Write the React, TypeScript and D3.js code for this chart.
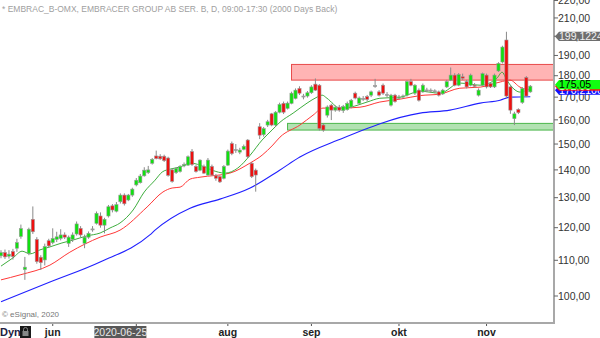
import React from 'react';
import * as d3 from 'd3';

const title = '* EMBRAC_B-OMX, EMBRACER GROUP AB SER. B, D, 09:00-17:30 (2000 Days Back)';

const opens = [111.3,112.3,111.2,112.6,113.6,117.2,107.3,112.1,122.7,116.3,110.9,110.1,115.9,115.3,116.3,116.6,117.7,115.1,116.3,118.0,119.8,115.1,117.0,119.3,121.4,123.8,120.8,123.8,127.2,125.4,128.6,130.9,129.2,130.9,134.5,135.3,137.8,139.0,142.5,145.3,145.2,145.2,144.5,140.0,139.0,139.4,141.5,141.8,147.0,141.3,139.9,141.3,138.1,141.3,137.8,137.5,136.9,141.8,150.2,147.8,146.8,147.9,151.6,142.5,139.9,157.1,153.8,157.8,162.6,157.8,163.3,167.2,165.0,167.2,169.4,174.0,170.2,170.5,172.0,176.0,175.5,157.8,162.0,166.4,164.2,165.5,164.0,164.4,165.6,171.8,167.2,169.0,170.2,170.9,175.0,172.4,175.5,171.0,166.4,170.9,169.5,170.0,170.9,177.2,171.8,173.2,172.4,173.0,172.8,172.5,172.4,171.5,174.7,177.9,180.3,175.5,179.5,177.2,175.5,175.5,170.9,175.5,180.3,176.3,174.7,182.3,186.7,198.0,174.7,160.5,164.5,167.6,179.2,172.4];
const highs = [113.0,113.2,113.0,113.4,116.5,121.0,111.0,120.0,127.0,117.0,111.5,115.0,116.5,119.8,118.7,119.5,118.5,117.5,118.5,122.0,120.5,117.8,118.8,120.5,125.3,125.0,123.2,127.5,127.8,128.5,131.5,131.5,131.3,133.5,137.0,138.5,141.0,141.5,144.5,147.4,146.0,145.8,145.0,140.5,141.0,141.8,142.8,145.5,148.0,141.8,144.0,142.0,144.5,142.0,138.5,138.0,141.8,147.8,151.0,150.0,148.5,149.8,152.0,143.0,140.5,158.6,157.0,160.0,163.0,163.8,167.5,168.0,168.0,172.5,174.0,175.0,171.5,172.8,175.5,178.7,176.0,158.5,166.3,167.0,166.2,166.5,166.5,168.0,169.2,172.5,170.3,170.5,171.0,173.0,178.5,173.2,176.3,172.3,171.5,171.5,171.0,171.2,177.8,178.5,176.0,174.0,176.3,174.3,174.0,173.6,173.0,173.8,178.0,184.0,181.2,181.3,181.0,178.0,181.0,176.5,174.0,181.5,181.0,177.0,181.0,186.6,195.0,202.4,175.5,163.5,165.0,174.6,179.8,175.6];
const lows = [110.6,110.4,110.5,110.2,112.5,116.5,104.4,111.5,118.0,109.0,107.2,108.5,113.8,114.8,115.5,116.0,116.4,114.0,115.5,117.5,117.0,113.6,116.5,118.7,121.0,120.0,118.2,123.3,125.0,125.0,128.0,127.3,128.8,130.3,134.0,135.0,137.5,138.5,142.0,144.0,143.8,143.0,137.5,135.3,138.5,139.0,141.0,141.5,141.5,139.0,139.5,138.5,137.8,137.8,136.0,135.2,136.5,141.5,145.6,146.5,146.0,147.5,144.5,137.0,132.1,152.0,153.0,157.0,157.3,157.0,162.8,162.5,164.5,166.8,169.0,171.0,169.0,169.8,171.5,172.8,155.5,155.0,161.0,159.9,163.5,163.5,163.0,164.0,165.0,169.0,166.5,168.3,168.0,170.0,174.3,170.3,171.0,170.0,165.8,167.5,169.0,169.3,170.3,175.0,171.0,168.0,172.0,172.3,172.0,171.8,170.3,171.0,174.2,177.4,175.0,175.0,178.0,174.0,175.0,174.3,170.3,175.0,174.0,174.2,174.2,181.8,186.0,169.5,162.6,157.8,162.5,167.0,170.0,172.0];
const closes = [112.3,111.0,111.8,111.1,115.3,119.7,108.0,119.5,118.7,109.6,109.3,114.1,114.3,116.6,117.1,117.7,117.0,117.0,117.7,121.2,117.7,117.0,118.2,119.6,124.7,120.8,122.7,126.9,125.8,127.6,130.9,127.9,130.9,133.0,136.2,137.7,139.9,140.0,144.0,144.3,144.2,143.5,138.0,135.8,140.6,141.3,142.0,145.0,142.0,139.4,143.7,138.8,143.7,138.1,136.9,135.6,141.3,147.2,146.2,147.5,147.6,149.1,145.0,137.5,138.1,153.6,156.3,159.2,157.8,163.3,166.7,163.3,167.3,171.8,173.2,171.8,170.5,172.0,174.7,173.2,156.3,155.7,165.6,164.2,165.5,164.2,165.8,167.2,168.6,169.6,169.6,169.4,169.0,172.4,175.3,170.9,171.8,171.2,170.9,168.0,170.0,170.5,177.2,175.5,175.5,168.6,175.5,173.3,173.2,172.9,170.9,173.2,177.2,180.3,175.5,180.6,178.8,174.7,180.3,175.0,173.2,181.0,174.7,174.7,180.3,186.0,194.3,170.5,164.2,162.6,163.1,174.0,170.5,175.05];

const greenMaIdx = [0,3,5.3,7.3,9.8,12.3,15.3,18.1,21.6,24.9,27.4,29.9,33.2,36,38.7,40.5,42.5,45,47.5,50,53,56.3,59.5,62.6,65.6,68.1,70.1,73.4,76.9,79.4,80.7,81.9,85.2,87.7,92,95.2,100.3,105.3,110.3,115.3,120.4,124.6,125.9,127.1,128.4,130.4,133];
const greenMaVal = [108.3,110.7,112.7,111.9,113.1,114.0,115.2,116.1,117.4,118.3,119.9,121.5,125.8,132.0,136.2,139.2,140.3,141.1,142.6,141.8,139.9,138.8,140.7,145.6,151.6,155.7,159.0,162.9,167.3,170.0,170.9,169.5,165.1,165.5,167.8,169.5,170.0,172.7,171.8,176.5,175.5,178.8,181.7,177.9,174.6,172.3,174.1];

const redMaIdx = [0,4.8,12.3,17.3,24.9,29.9,36.7,40.7,43,45,47.5,50,57.5,62.6,65.6,68.3,70.1,75.1,78.4,80.9,85.2,90.2,95.2,100.3,105.3,110.3,115.3,120.4,125.4,127.9,130.4,133];
const redMaVal = [104.4,105.8,108.6,112.4,117.0,119.2,126.8,132.0,133.4,133.7,136.6,137.3,138.8,142.6,145.6,149.6,152.8,157.8,162.0,165.1,165.1,165.5,167.8,169.1,170.7,171.4,174.1,174.6,177.0,177.9,174.6,173.2];

const blueMaIdx = [0,12.3,24.9,37.4,38.7,47.5,55,62.6,70,75.1,84.7,105.3,112.8,120.4,125.4,128,133];
const blueMaVal = [98.5,103.8,109.5,117.7,119.2,126.4,129.5,133.4,139.9,144.9,151.6,162.9,164.2,167.3,168.6,170.0,170.2];

const yTicks = [100,110,120,130,140,150,160,170,180,190,200,210,220];
const monthLabels = ['jun','','aug','sep','okt','nov'];
const monthIdx = [13,34,57,78,100,122];

const resistanceZone = [177.9, 185.5];
const resistanceStart = 73;
const supportZone = [155.7, 158.5];
const supportStart = 72;

const lastPrice = 175.05;
const redMaLast = 172.9;
const blueMaLast = 170.2106;
const crossPrice = 199.12243;
const crossDate = '2020-06-25';
const crossIdx = 30;

const W = 600, H = 338;
const plotR = 553, plotB = 323;
const FONT = 'Liberation Sans, Arial, Helvetica, sans-serif';

const fmt = (v: number, d = 2) => v.toFixed(d).replace('.', ',');

function Tag({ cy, fill, color, text }: { cy: number; fill: string; color: string; text: string }) {
  const h = 4.6;
  const pts = `555,${cy} 559,${cy - h} 600,${cy - h} 600,${cy + h} 559,${cy + h}`;
  return (
    <g>
      <polygon points={pts} fill={fill} />
      <text x={559} y={cy} dy="0.36em" fontSize={10.5} fill={color} fontFamily={FONT}>{text}</text>
    </g>
  );
}

export default function App() {
  const x = d3.scaleLinear().domain([-0.25, 138.7]).range([0, plotR]);
  const y = d3.scaleLog().domain([93.05, 220.3]).range([plotB, 0]);

  const line = (idx: number[], vals: number[]) =>
    d3.line<number>().x((_, i) => x(idx[i])).y((v) => y(v)).curve(d3.curveMonotoneX)(vals) || '';

  const gy = y(lastPrice) - 1.5;

  return (
    <svg width={W} height={H} style={{ position: 'absolute', left: 0, top: 0, background: '#fff' }}>
      <defs>
        <clipPath id="plot"><rect x={0} y={0} width={plotR} height={plotB} /></clipPath>
      </defs>
      <rect x={0} y={0} width={W} height={H} fill="#fff" />
      <g clipPath="url(#plot)">
        <rect x={x(resistanceStart)} y={y(resistanceZone[1])} width={plotR - x(resistanceStart) + 2}
          height={y(resistanceZone[0]) - y(resistanceZone[1])} fill="#ffb4b4" stroke="#e84a4a" strokeWidth={1} />
        <rect x={x(supportStart)} y={y(supportZone[1])} width={plotR - x(supportStart) + 2}
          height={y(supportZone[0]) - y(supportZone[1])} fill="#b2e2b2" stroke="#4cb84c" strokeWidth={1} />
        <path d={line(blueMaIdx, blueMaVal)} fill="none" stroke="#2020ff" strokeWidth={1.1} />
        <path d={line(redMaIdx, redMaVal)} fill="none" stroke="#ff3838" strokeWidth={1} />
        <path d={line(greenMaIdx, greenMaVal)} fill="none" stroke="#28a428" strokeWidth={0.9} />
        {closes.map((c, i) => {
          const o = opens[i];
          const cx = x(i);
          const up = c >= o;
          const top = y(Math.max(o, c));
          const bot = y(Math.min(o, c));
          const bh = Math.max(1, bot - top);
          return (
            <g key={i}>
              <line x1={cx} x2={cx} y1={y(highs[i])} y2={y(lows[i])} stroke="#8a8a8a" strokeWidth={1} />
              <rect x={cx - 1.6} y={top} width={3.2} height={bh}
                fill={Math.abs(c - o) < 0.45 ? '#999' : up ? '#10e010' : '#ee1010'}
                stroke="#9a9a9a" strokeWidth={0.6} />
            </g>
          );
        })}
      </g>
      <text x={2} y={11.5} fontSize={8.5} fill="#a0a0a0" fontFamily={FONT}>{title}</text>
      <text x={2} y={317} fontSize={8} fill="#777" fontFamily={FONT}>© eSignal, 2020</text>
      <line x1={plotR + 1} x2={plotR + 1} y1={0} y2={plotB + 1} stroke="#a8a8a8" strokeWidth={2} />
      <line x1={0} x2={plotR + 2} y1={plotB} y2={plotB} stroke="#a8a8a8" strokeWidth={2} />
      {yTicks.map((t) => (
        <g key={t}>
          <line x1={plotR + 1} x2={plotR + 5} y1={y(t)} y2={y(t)} stroke="#666" strokeWidth={1} />
          <text x={plotR + 5} y={y(t)} dy="0.36em" fontSize={10.5} fill="#333" fontFamily={FONT}>{fmt(t)}</text>
        </g>
      ))}
      {monthIdx.map((mi, k) => (
        <g key={mi}>
          <line x1={x(mi)} x2={x(mi)} y1={plotB + 1} y2={plotB + 3} stroke="#555" strokeWidth={1} />
          {monthLabels[k] ? (
            <text x={x(mi)} y={336} textAnchor="middle" fontSize={10.5} fontWeight="bold" fill="#222" fontFamily={FONT}>{monthLabels[k]}</text>
          ) : null}
        </g>
      ))}
      <rect x={x(crossIdx) - 26} y={326} width={52} height={12} fill="#585858" />
      <text x={x(crossIdx)} y={336} textAnchor="middle" fontSize={10.5} fill="#e8e8e8" fontFamily={FONT}>{crossDate}</text>
      <text x={0} y={336} fontSize={11} fontWeight="bold" fill="#1e2040" fontFamily={FONT}>Dyn</text>
      <rect x={20} y={326} width={11} height={12} fill="#1a1a1a" />
      <path d="M23.5,331 v-1.5 a2,2 0 0 1 4,0 v1.5" fill="none" stroke="#888" strokeWidth={1} />
      <rect x={22.5} y={331} width={6} height={5} fill="#888" />
      <Tag cy={y(crossPrice) - 1.5} fill="#6e6e6e" color="#f0f0f0" text={fmt(crossPrice, 5)} />
      <Tag cy={gy + 5.5} fill="#1010ff" color="#ffffff" text={fmt(blueMaLast, 4)} />
      <Tag cy={gy + 1.5} fill="#ff1010" color="#ffffff" text={fmt(redMaLast)} />
      <Tag cy={gy} fill="#10ff10" color="#000" text={fmt(lastPrice)} />
    </svg>
  );
}
